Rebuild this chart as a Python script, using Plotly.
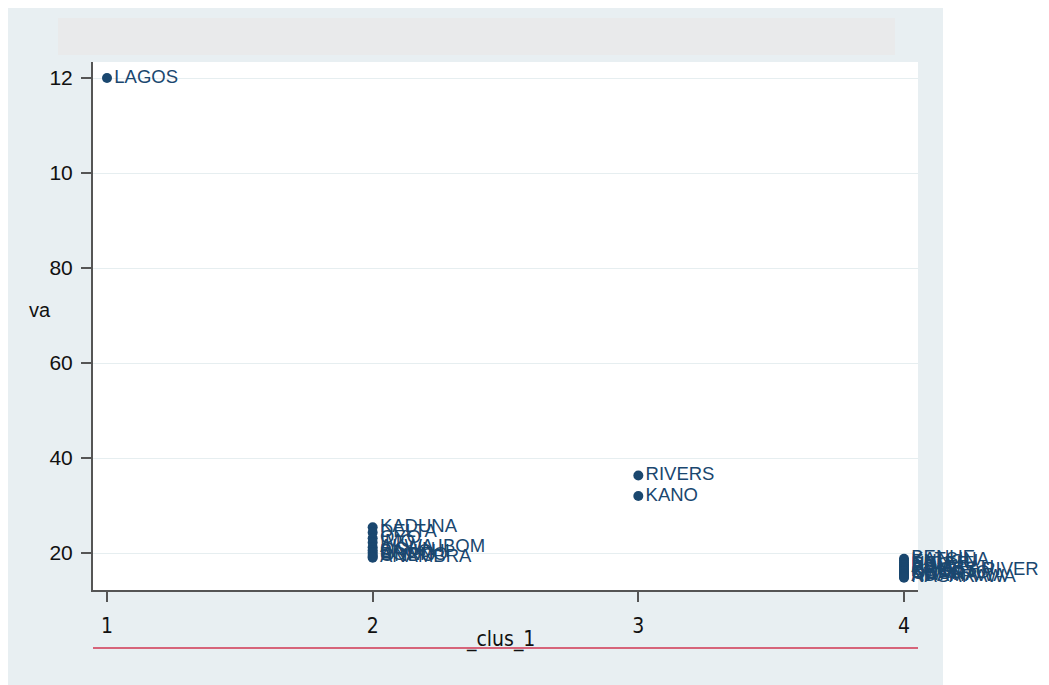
import plotly.graph_objects as go

# ---- data ----
states = ["LAGOS",
          "RIVERS", "KANO",
          "KADUNA", "DELTA", "OYO", "IMO", "AKWA IBOM", "OGUN", "BAUCHI", "BORNO", "ONDO", "ANAMBRA",
          "BENUE", "KATSINA", "ENUGU", "NIGER", "EDO", "ABIA", "PLATEAU", "CROSS RIVER",
          "KOGI", "SOKOTO", "OSUN", "KWARA", "ADAMAWA", "NASARAWA"]
clus = [1,
        3, 3,
        2, 2, 2, 2, 2, 2, 2, 2, 2, 2,
        4, 4, 4, 4, 4, 4, 4, 4,
        4, 4, 4, 4, 4, 4]
va = [120.0,
      36.3, 32.0,
      25.4, 24.3, 23.1, 22.2, 21.2, 20.6, 20.1, 19.6, 19.2, 19.0,
      18.8, 18.4, 18.0, 17.6, 17.3, 17.0, 16.7, 16.4,
      16.1, 15.8, 15.5, 15.2, 15.0, 14.8]

x_ticks = [1, 2, 3, 4]
y_ticks = [20, 40, 60, 80, 100, 120]
y_ticktext = ["20", "40", "60", "80", "10", "12"]

navy = "#1a476f"

fig = go.Figure()
fig.add_trace(go.Scatter(
    x=clus, y=va, mode="markers+text", text=states,
    textposition="middle right",
    textfont=dict(family="Liberation Sans, Arial, sans-serif", size=18.5, color=navy),
    marker=dict(color=navy, size=10),
    cliponaxis=False, showlegend=False,
))

# page offset (body margin) of 8px
OFF = 8
# plot area in page px: left 93, right 918, top 62, bottom 590
L, R, T, B = 93 - OFF, 918 - OFF, 62 - OFF, 590 - OFF
W, H = 1049, 685

def px(xp):
    return (xp - OFF - L) / (R - L)

def py(yp):
    return (B - (yp - OFF)) / (B - T)

shapes = [
    # outer graph region background
    dict(type="rect", xref="paper", yref="paper", x0=px(5), x1=px(943), y0=py(690), y1=py(5),
         fillcolor="#e8eff2", line=dict(width=0), layer="below"),
    # redacted title blob
    dict(type="rect", xref="paper", yref="paper", x0=px(58), x1=px(895), y0=py(55), y1=py(18),
         fillcolor="#e9eaeb", line=dict(width=0), layer="below"),
    # white plot region
    dict(type="rect", xref="paper", yref="paper", x0=0, x1=1, y0=0, y1=1,
         fillcolor="white", line=dict(width=0), layer="below"),
    # red line under the x axis title
    dict(type="line", xref="paper", yref="paper", x0=0, x1=1, y0=py(648), y1=py(648),
         line=dict(color="#d6647a", width=2)),
]

fig.update_layout(
    width=W, height=H,
    margin=dict(l=L, r=W - R, t=T, b=H - B, autoexpand=False),
    paper_bgcolor="white", plot_bgcolor="white",
    shapes=shapes,
    font=dict(family="Liberation Sans, Arial, sans-serif", color="#111"),
    annotations=[
        dict(text="va", xref="paper", yref="paper", x=px(40), y=py(310), showarrow=False,
             xanchor="center", yanchor="middle",
             font=dict(size=20, family="Liberation Sans, Arial, sans-serif", color="#111")),
        dict(text="_clus_1", xref="paper", yref="paper", x=px(500), y=py(639), showarrow=False,
             xanchor="center", yanchor="middle",
             font=dict(size=21, family="Liberation Sans Narrow, DejaVu Sans Condensed, Liberation Sans, sans-serif",
                       color="#111")),
    ],
)

x0 = 1 - (107 - 93) / ((904 - 107) / 3)
x1 = 4 + (918 - 904) / ((904 - 107) / 3)
fig.update_xaxes(
    range=[x0, x1], tickvals=x_ticks, ticktext=[str(t) for t in x_ticks],
    showgrid=False, zeroline=False,
    showline=True, linecolor="#555", linewidth=2,
    ticks="outside", ticklen=10, tickwidth=2, tickcolor="#555",
    tickfont=dict(size=21, family="Liberation Sans Narrow, DejaVu Sans Condensed, Liberation Sans, sans-serif"),
    ticklabelstandoff=6,
)

per20 = (553 - 78) / 5.0  # px per 20 units
y_bottom = 20 - (590 - 553) / per20 * 20
y_top = 120 + (78 - 62) / per20 * 20
fig.update_yaxes(
    range=[y_bottom, y_top], tickvals=y_ticks, ticktext=y_ticktext,
    showgrid=True, gridcolor="#e6eef0", gridwidth=1, zeroline=False,
    showline=True, linecolor="#555", linewidth=2,
    ticks="outside", ticklen=10, tickwidth=2, tickcolor="#555",
    tickfont=dict(size=21), ticklabelstandoff=4,
)

fig.write_html("out.html")
